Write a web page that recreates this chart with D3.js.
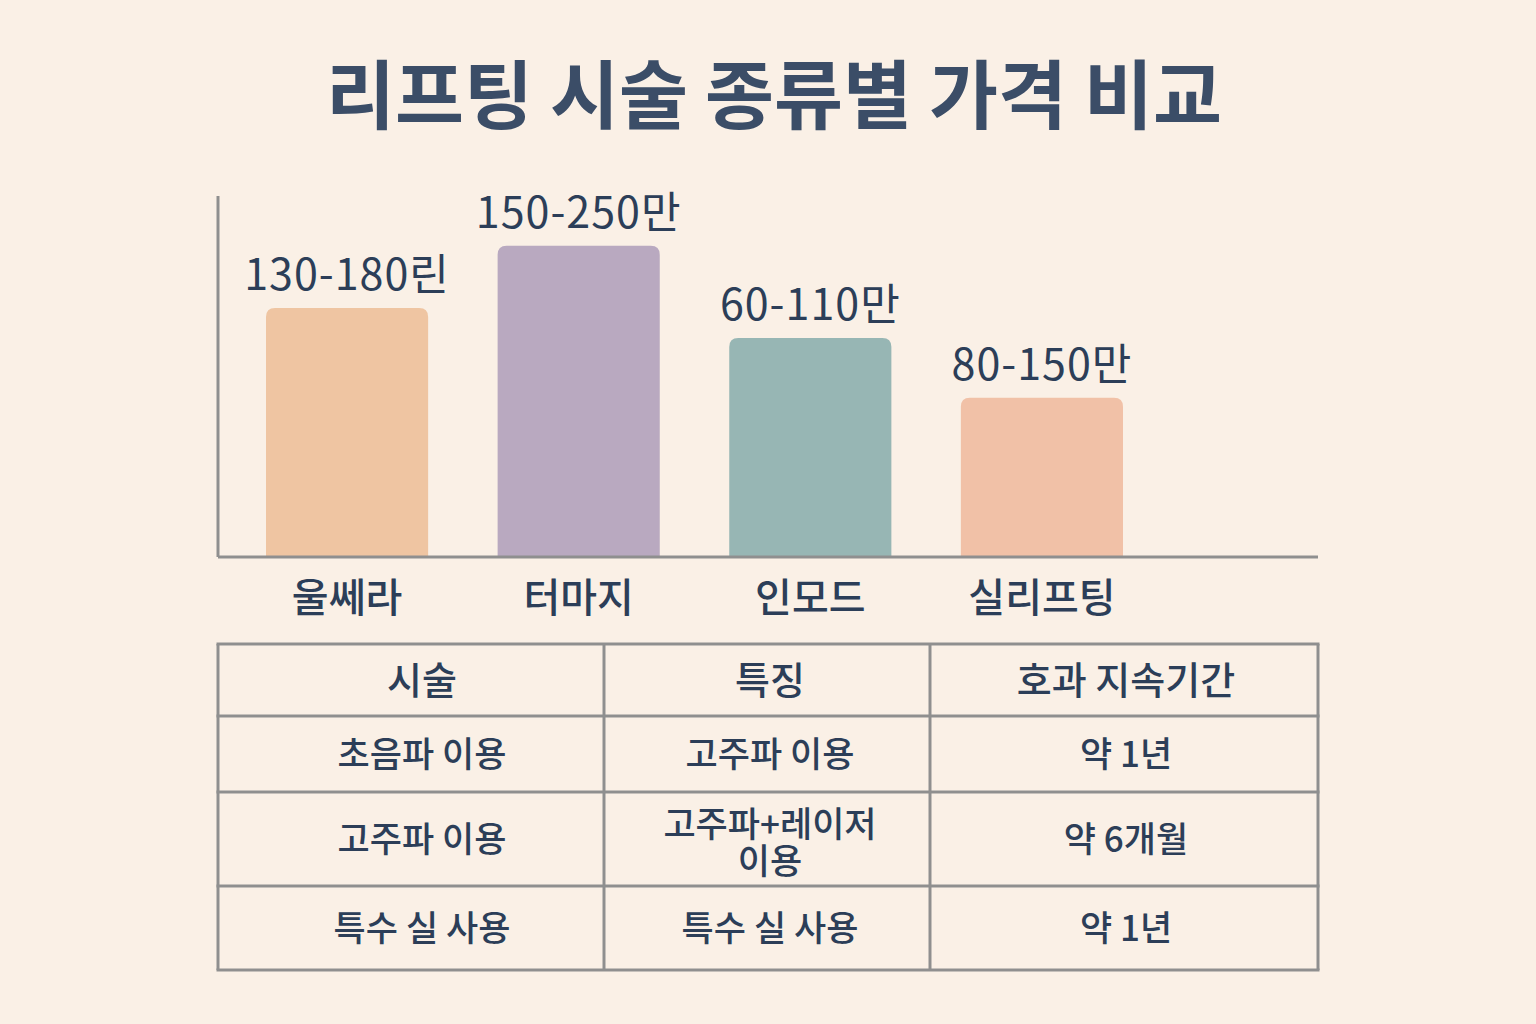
<!DOCTYPE html>
<html>
<head>
<meta charset="utf-8">
<script src="https://cdn.jsdelivr.net/npm/d3@7"></script>
<style>
  html, body { margin: 0; padding: 0; background: #faf0e6; }
  svg { display: block; }
</style>
</head>
<body>
<script>
// Chart data
const procedures = ["울쎄라", "터마지", "인모드", "실리프팅"];
const priceLabels = ["130-180린", "150-250만", "60-110만", "80-150만"];
const barValues = [200, 250, 176, 128];   // bar heights
const barColors = ["#efc5a2", "#b9a9c0", "#97b6b4", "#f1c1a7"];

// Table data
const tableHeaders = ["시술", "특징", "호과 지속기간"];
const colMethod = ["초음파 이용", "고주파 이용", "특수 실 사용"];
const colFeature = ["고주파 이용", "고주파+레이저\n이용", "특수 실 사용"];
const colDuration = ["약 1년", "약 6개월", "약 1년"];

const width = 1536, height = 1024;
const font = "'Noto Sans CJK KR', 'Noto Sans', sans-serif";
const textColor = "#2c3e58";
const lineColor = "#8f8f8f";

const svg = d3.select("body").append("svg")
    .attr("width", width)
    .attr("height", height);

svg.append("rect")
    .attr("width", width)
    .attr("height", height)
    .attr("fill", "#faf0e6");

// Title
svg.append("text")
    .attr("x", 774)
    .attr("y", 123)
    .attr("text-anchor", "middle")
    .style("font-family", font)
    .style("font-size", "75px")
    .style("font-weight", 700)
    .attr("fill", "#3b4d67")
    .text("리프팅 시술 종류별 가격 비교");

// Scales
const plot = { left: 218, right: 1318, top: 196, bottom: 557 };

const xScale = d3.scaleBand()
    .domain(procedures)
    .range([266, 1123])
    .paddingInner(0.3)
    .paddingOuter(0);

const yScale = d3.scaleLinear()
    .domain([0, 290])
    .range([plot.bottom, plot.top]);

// Bars with rounded tops
function barPath(x, y, w, h, r) {
    return `M${x},${y + h} L${x},${y + r} Q${x},${y} ${x + r},${y} ` +
        `L${x + w - r},${y} Q${x + w},${y} ${x + w},${y + r} L${x + w},${y + h} Z`;
}

procedures.forEach((p, i) => {
    const x = xScale(p);
    const w = xScale.bandwidth();
    const y = yScale(barValues[i]);
    svg.append("path")
        .attr("d", barPath(x, y, w, plot.bottom - y, 9))
        .attr("fill", barColors[i]);

    svg.append("text")
        .attr("x", x + w / 2)
        .attr("y", y - 18)
        .attr("text-anchor", "middle")
        .style("font-family", font)
        .style("font-size", "43px")
        .style("letter-spacing", "1px")
        .attr("fill", textColor)
        .text(priceLabels[i]);

    svg.append("text")
        .attr("x", x + w / 2)
        .attr("y", 612)
        .attr("text-anchor", "middle")
        .style("font-family", font)
        .style("font-size", "40px")
        .style("font-weight", 500)
        .attr("fill", textColor)
        .text(p);
});

// Axes lines
svg.append("line")
    .attr("x1", plot.left).attr("x2", plot.left)
    .attr("y1", plot.top).attr("y2", plot.bottom)
    .attr("stroke", lineColor).attr("stroke-width", 3);

svg.append("line")
    .attr("x1", plot.left).attr("x2", plot.right)
    .attr("y1", plot.bottom).attr("y2", plot.bottom)
    .attr("stroke", lineColor).attr("stroke-width", 3);

// Table
const colEdges = [218, 604, 930, 1318];
const rowEdges = [644, 716, 792, 886, 970];
const rows = [tableHeaders].concat(colMethod.map((m, i) => [m, colFeature[i], colDuration[i]]));
const colCenters = [422, 770, 1126];

const table = svg.append("g");

rows.forEach((row, r) => {
    const cy = (rowEdges[r] + rowEdges[r + 1]) / 2;
    row.forEach((cell, c) => {
        const lines = cell.split("\n");
        const size = r === 0 ? 38 : 35;
        const lineH = 37;
        const shift = lines.length > 1 ? 4 : 0;
        // multi-line cells go in one text element, one tspan per line
        const t = table.append("text")
            .attr("text-anchor", "middle")
            .style("font-family", font)
            .style("font-size", size + "px")
            .style("font-weight", 500)
            .attr("fill", textColor);
        lines.forEach((ln, k) => {
            t.append("tspan")
                .attr("x", colCenters[c])
                .attr("y", cy + shift + (k - (lines.length - 1) / 2) * lineH)
                .attr("dy", "0.36em")
                .text(ln);
        });
    });
});

rowEdges.forEach(y => {
    table.append("line")
        .attr("x1", colEdges[0] - 1.5).attr("x2", colEdges[3] + 1.5)
        .attr("y1", y).attr("y2", y)
        .attr("stroke", lineColor).attr("stroke-width", 3);
});
colEdges.forEach(x => {
    table.append("line")
        .attr("x1", x).attr("x2", x)
        .attr("y1", rowEdges[0]).attr("y2", rowEdges[rowEdges.length - 1])
        .attr("stroke", lineColor).attr("stroke-width", 3);
});
</script>
</body>
</html>
